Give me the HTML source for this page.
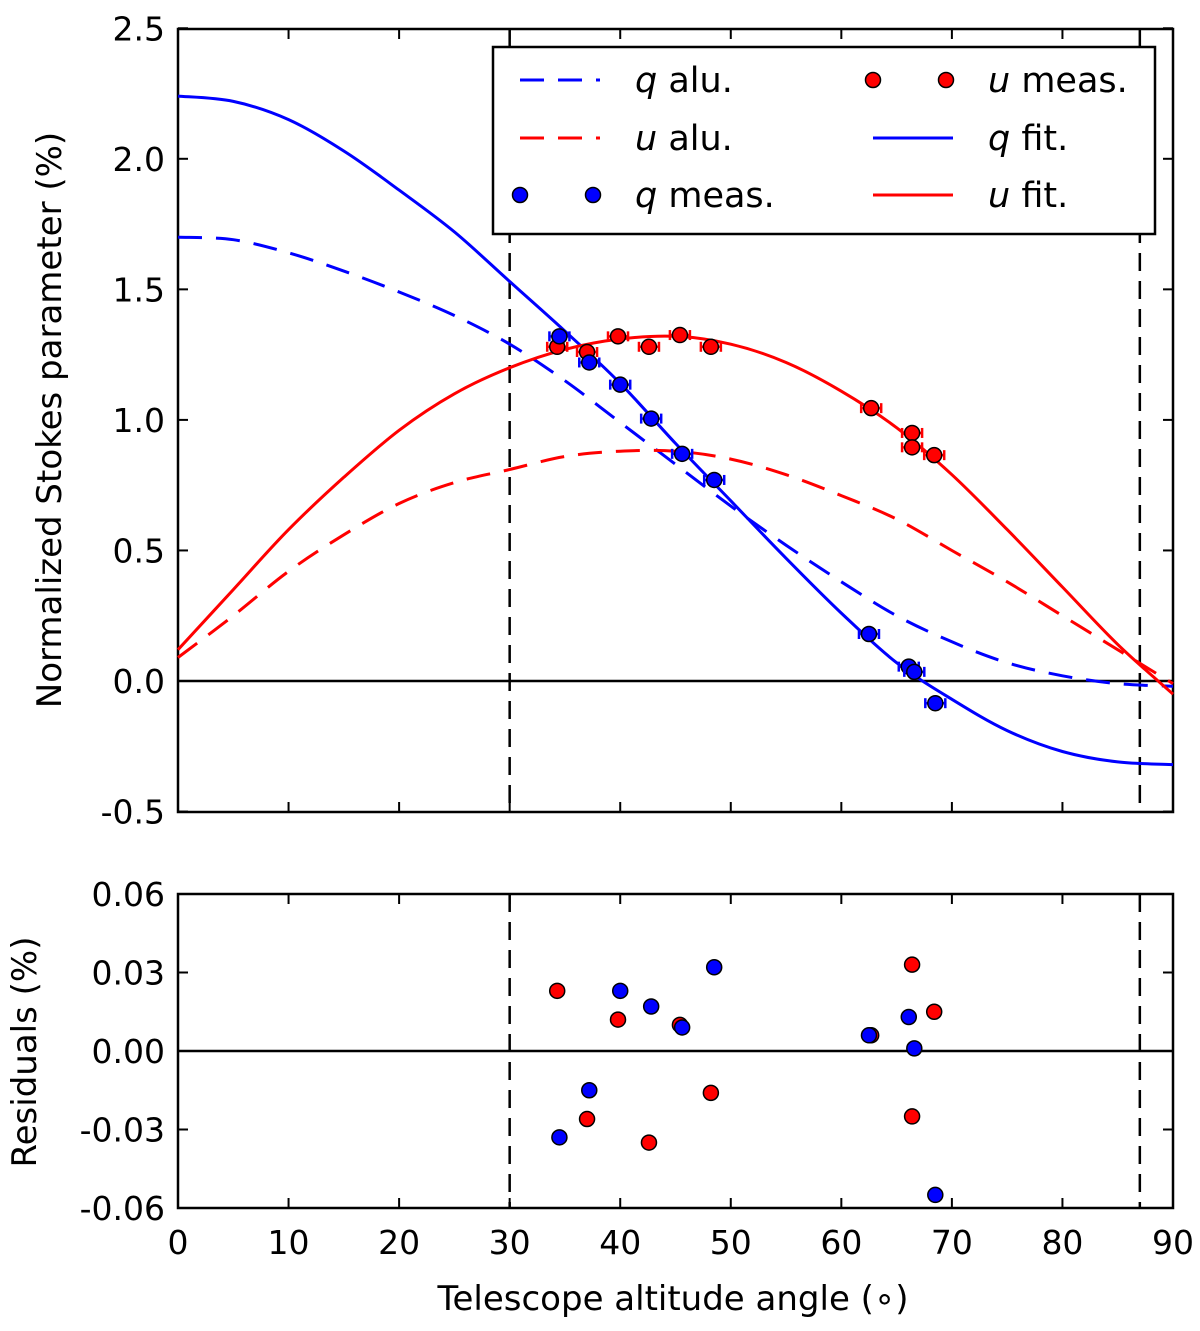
<!DOCTYPE html>
<html><head><meta charset="utf-8"><style>
html,body{margin:0;padding:0;background:#fff}
svg text{font-family:"DejaVu Sans","Liberation Sans",sans-serif;fill:#000}
</style></head><body>
<svg id="c" width="1200" height="1326" xmlns="http://www.w3.org/2000/svg"></svg>
<script>
const fitX=[0,5,10,15,20,25,30,35,40,45,50,55,60,65,70,75,80,85,90];
const qFit=[2.24,2.22,2.15,2.03,1.88,1.72,1.53,1.34,1.14,0.91,0.69,0.47,0.26,0.07,-0.07,-0.19,-0.27,-0.31,-0.32];
const uFit=[0.12,0.35,0.58,0.78,0.96,1.10,1.20,1.27,1.31,1.32,1.29,1.22,1.11,0.97,0.79,0.58,0.36,0.14,-0.05];
const qAlu=[1.70,1.69,1.64,1.57,1.49,1.40,1.29,1.15,0.99,0.83,0.67,0.52,0.38,0.25,0.15,0.07,0.02,-0.01,-0.02];
const uAlu=[0.09,0.25,0.42,0.56,0.68,0.76,0.81,0.86,0.88,0.88,0.85,0.79,0.71,0.62,0.50,0.38,0.25,0.12,-0.01];
const qMeasX=[34.5,37.2,40,42.8,45.6,48.5,62.5,66.1,66.6,68.5];
const qMeasY=[1.32,1.22,1.135,1.005,0.87,0.77,0.18,0.055,0.035,-0.085];
const uMeasX=[34.3,37,39.8,42.6,45.4,48.2,62.7,66.4,66.4,68.4];
const uMeasY=[1.28,1.26,1.32,1.28,1.325,1.28,1.045,0.95,0.895,0.865];
const qRes=[-0.033,-0.015,0.023,0.017,0.009,0.032,0.006,0.013,0.001,-0.055];
const uRes=[0.023,-0.026,0.012,-0.035,0.01,-0.016,0.006,0.033,-0.025,0.015];
const xTicks=[0,10,20,30,40,50,60,70,80,90];
const yTicksTop=[-0.5,0.0,0.5,1.0,1.5,2.0,2.5];
const yTicksBot=[-0.06,-0.03,0.00,0.03,0.06];
const vLines=[30,87];

const S=document.getElementById('c');const NS='http://www.w3.org/2000/svg';
function el(t,a,p){const e=document.createElementNS(NS,t);for(const k in a)e.setAttribute(k,a[k]);(p||S).appendChild(e);return e;}
const X=v=>178+(v/90)*995;
const YT=v=>681-v*261.1;
const YB=v=>1051-v*(157/0.06);
const L=178,R=1173;
function axes(top,bot,Y,ticks,fmt,name){
  const g=el('g',{});
  vLines.forEach(v=>{const l=el('line',{x1:X(v),x2:X(v),y1:top,y2:bot,stroke:'#000','stroke-width':2.5,'stroke-dasharray':'18,10'},g);});
  const z=el('line',{x1:L,x2:R,y1:Y(0),y2:Y(0),stroke:'#000','stroke-width':2.5},g);
  ticks.forEach(t=>{const y=Y(t);el('line',{x1:L,x2:L+10,y1:y,y2:y,stroke:'#000','stroke-width':2},g);el('line',{x1:R,x2:R-10,y1:y,y2:y,stroke:'#000','stroke-width':2},g);
    const tx=el('text',{x:L-13,y:y+12,'text-anchor':'end','font-size':33},g);tx.textContent=fmt(t);});
  xTicks.forEach(t=>{const x=X(t);el('line',{x1:x,x2:x,y1:bot,y2:bot-10,stroke:'#000','stroke-width':2},g);el('line',{x1:x,x2:x,y1:top,y2:top+10,stroke:'#000','stroke-width':2},g);});
  el('rect',{x:L,y:top,width:R-L,height:bot-top,fill:'none',stroke:'#000','stroke-width':2.5},g);
}
function path(xs,ys,Y,col,dash,name){
  const P=xs.map((x,i)=>[X(x),Y(ys[i])]);
  let d='M'+P[0][0].toFixed(1)+','+P[0][1].toFixed(1);
  for(let i=0;i<P.length-1;i++){
    const p0=P[Math.max(0,i-1)],p1=P[i],p2=P[i+1],p3=P[Math.min(P.length-1,i+2)];
    const c1=[p1[0]+(p2[0]-p0[0])/6,p1[1]+(p2[1]-p0[1])/6],c2=[p2[0]-(p3[0]-p1[0])/6,p2[1]-(p3[1]-p1[1])/6];
    d+='C'+c1.map(v=>v.toFixed(1)).join(',')+' '+c2.map(v=>v.toFixed(1)).join(',')+' '+p2.map(v=>v.toFixed(1)).join(',');
  }
  const p=el('path',{d:d,fill:'none',stroke:col,'stroke-width':3,'stroke-dasharray':dash||'none'});
  
}
function dots(xs,ys,Y,col,name,err){
  xs.forEach((x,i)=>{const cx=X(x),cy=Y(ys[i]);
    if(err){const g=el('g',{stroke:col,'stroke-width':2.5});el('line',{x1:cx-10,x2:cx+10,y1:cy,y2:cy},g);el('line',{x1:cx-10,x2:cx-10,y1:cy-5,y2:cy+5},g);el('line',{x1:cx+10,x2:cx+10,y1:cy-5,y2:cy+5},g);}
    const c=el('circle',{cx:cx,cy:cy,r:7.5,fill:col,stroke:'#000','stroke-width':1.5});});
}
axes(29,812,YT,yTicksTop,t=>t.toFixed(1),'top-axes');
path(fitX,qAlu,YT,'#0000ff','24,14','q-alu-line');
path(fitX,uAlu,YT,'#ff0000','24,14','u-alu-line');
path(fitX,qFit,YT,'#0000ff',null,'q-fit-line');
path(fitX,uFit,YT,'#ff0000',null,'u-fit-line');
dots(uMeasX,uMeasY,YT,'#ff0000','u-meas-point',true);
dots(qMeasX,qMeasY,YT,'#0000ff','q-meas-point',true);
axes(894,1208,YB,yTicksBot,t=>t.toFixed(2),'bottom-axes');
dots(uMeasX,uRes,YB,'#ff0000','u-residual-point',false);
dots(qMeasX,qRes,YB,'#0000ff','q-residual-point',false);
xTicks.forEach(t=>{const tx=el('text',{x:X(t),y:1254,'text-anchor':'middle','font-size':33});tx.textContent=t;});
let t=el('text',{x:673,y:1310,'text-anchor':'middle','font-size':34});t.textContent='Telescope altitude angle (\u2218)';
t=el('text',{x:0,y:0,'text-anchor':'middle','font-size':34,transform:'translate(61,420) rotate(-90)'});t.textContent='Normalized Stokes parameter (%)';
t=el('text',{x:0,y:0,'text-anchor':'middle','font-size':34,transform:'translate(36,1052) rotate(-90)'});t.textContent='Residuals (%)';
const lg=el('g',{});
el('rect',{x:493,y:47,width:662,height:187,fill:'#fff',stroke:'#000','stroke-width':2.5},lg);
function entry(x,y,col,kind,v,rest){
  const g=el('g',{},lg);
  if(kind==='dash')el('line',{x1:x,x2:x+80,y1:y,y2:y,stroke:col,'stroke-width':3,'stroke-dasharray':'24,14'},g);
  else if(kind==='line')el('line',{x1:x,x2:x+80,y1:y,y2:y,stroke:col,'stroke-width':3},g);
  else{el('circle',{cx:x,cy:y,r:7.5,fill:col,stroke:'#000','stroke-width':1.5},g);el('circle',{cx:x+73,cy:y,r:7.5,fill:col,stroke:'#000','stroke-width':1.5},g);}
  const tx=el('text',{x:x+115,y:y+12,'font-size':35},g);
  const a=el('tspan',{'font-style':'italic'},tx);a.textContent=v;const b=el('tspan',{},tx);b.textContent=' '+rest;
}
entry(520,80,'#0000ff','dash','q','alu.');
entry(520,138,'#ff0000','dash','u','alu.');
entry(520,195,'#0000ff','dot','q','meas.');
entry(873,80,'#ff0000','dot','u','meas.');
entry(873,138,'#0000ff','line','q','fit.');
entry(873,195,'#ff0000','line','u','fit.');
</script>
</body></html>
